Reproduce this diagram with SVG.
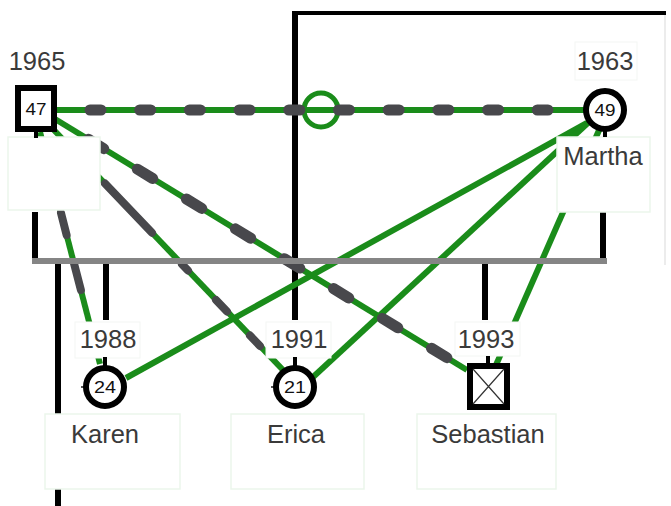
<svg xmlns="http://www.w3.org/2000/svg" width="671" height="506" viewBox="0 0 671 506">
<style>
.t{font-family:"Liberation Sans",Arial,sans-serif;fill:#3a3a3a;font-size:25.5px;text-anchor:middle}
.n{font-family:"Liberation Sans",Arial,sans-serif;fill:#111;font-size:16px;text-anchor:middle}
.g{stroke:#1a8c1a;stroke-width:6;fill:none}
.d{stroke:#48484c;stroke-width:11;fill:none;stroke-linecap:round}
.d2{stroke:#48484c;stroke-width:8;fill:none;stroke-linecap:round}
.k{stroke:#000;stroke-width:6;fill:none}
.lb{fill:#fff;stroke:#ebf6eb;stroke-width:1.5}
.yb{fill:#fff;stroke:#f3f6f3;stroke-width:1}
.sym{fill:#fff;stroke:#000;stroke-width:6}
.tk{stroke:#000;stroke-width:4}
</style>
<rect width="671" height="506" fill="#fff"/>
<g id="connectors">
  <line x1="665" y1="13" x2="665" y2="265" stroke="#e6e6e6" stroke-width="1.5"/>
  <line x1="295" y1="13" x2="666" y2="13" stroke="#000" stroke-width="4"/>
  <line class="k" x1="295" y1="11" x2="295" y2="320"/>
  <line class="k" x1="35" y1="212" x2="35" y2="262"/>
  <line class="k" x1="603" y1="212" x2="603" y2="262"/>
  <line class="k" x1="58" y1="262" x2="58" y2="506"/>
  <line class="k" x1="106" y1="262" x2="106" y2="320"/>
  <line class="k" x1="485" y1="262" x2="485" y2="320"/>
  <line class="g" x1="55" y1="110" x2="590" y2="110"/>
  <line class="g" x1="55" y1="119" x2="467" y2="370"/>
  <line class="g" x1="52" y1="128" x2="283" y2="370"/>
  <line class="g" x1="40" y1="132" x2="100" y2="364"/>
  <line class="g" x1="587" y1="123" x2="126" y2="378"/>
  <line class="g" x1="590" y1="121" x2="312" y2="378"/>
  <line class="g" x1="600" y1="128" x2="496" y2="365"/>
  <circle cx="321" cy="110" r="17" fill="none" stroke="#1a8c1a" stroke-width="5"/>
  <path class="d" d="M90 110 H548" stroke-dasharray="11 38.7"/>
  <path class="d" d="M88.3 139.3 L455 362.6" stroke-width="10" stroke-dasharray="18 39.4"/>
  <path class="d2" d="M105 183.5 L152 232.8 M182 264.2 L188 270.5 M216 299.9 L227 311.4 M250 335.5 L260 346"/>
  <path class="d2" d="M61 213 L66.6 235 M73.9 263 L80.9 290"/>
  <line x1="32" y1="261" x2="607" y2="261" stroke="#858585" stroke-width="6"/>
</g>
<g id="p47">
  <rect class="lb" x="8" y="137" width="92" height="73"/>
  <text class="t" x="37" y="70">1965</text>
  <line class="tk" x1="36" y1="130" x2="36" y2="138"/>
  <rect class="sym" x="18" y="88" width="36" height="41" stroke-width="6.5"/>
  <text class="n" x="36" y="115" textLength="21" lengthAdjust="spacingAndGlyphs">47</text>
</g>
<g id="martha">
  <rect class="yb" x="575" y="42" width="62" height="38"/>
  <text class="t" x="605" y="70">1963</text>
  <rect class="lb" x="557" y="137" width="93" height="75"/>
  <line class="tk" x1="605" y1="128" x2="605" y2="137"/>
  <circle class="sym" cx="605" cy="110" r="19"/>
  <text class="n" x="605" y="116" textLength="21" lengthAdjust="spacingAndGlyphs">49</text>
  <text class="t" x="603" y="165">Martha</text>
</g>
<g id="karen">
  <rect class="yb" x="75" y="322" width="65" height="36"/>
  <text class="t" x="108" y="348">1988</text>
  <line class="tk" x1="105" y1="357" x2="105" y2="368"/>
  <line x1="81" y1="387" x2="86" y2="387" stroke="#555" stroke-width="2"/>
  <circle class="sym" cx="105" cy="387" r="19"/>
  <text class="n" x="105" y="393" textLength="22" lengthAdjust="spacingAndGlyphs">24</text>
  <rect class="lb" x="45" y="414" width="135" height="75"/>
  <text class="t" x="105" y="443">Karen</text>
</g>
<g id="erica">
  <rect class="yb" x="266" y="322" width="65" height="36"/>
  <text class="t" x="299" y="348">1991</text>
  <line class="tk" x1="295" y1="357" x2="295" y2="368"/>
  <line x1="271" y1="387" x2="276" y2="387" stroke="#555" stroke-width="2"/>
  <circle class="sym" cx="295" cy="387" r="19"/>
  <text class="n" x="295" y="393" textLength="22" lengthAdjust="spacingAndGlyphs">21</text>
  <rect class="lb" x="231" y="414" width="133" height="75"/>
  <text class="t" x="296" y="443">Erica</text>
</g>
<g id="sebastian">
  <rect class="yb" x="455" y="322" width="65" height="34"/>
  <text class="t" x="486" y="348">1993</text>
  <line class="tk" x1="488" y1="356" x2="488" y2="366"/>
  <rect class="sym" x="470" y="366" width="37" height="41"/>
  <path d="M473 369 L504 404 M504 369 L473 404" stroke="#333" stroke-width="1.2"/>
  <rect class="lb" x="417" y="414" width="139" height="75"/>
  <text class="t" x="488" y="443">Sebastian</text>
</g>
</svg>
